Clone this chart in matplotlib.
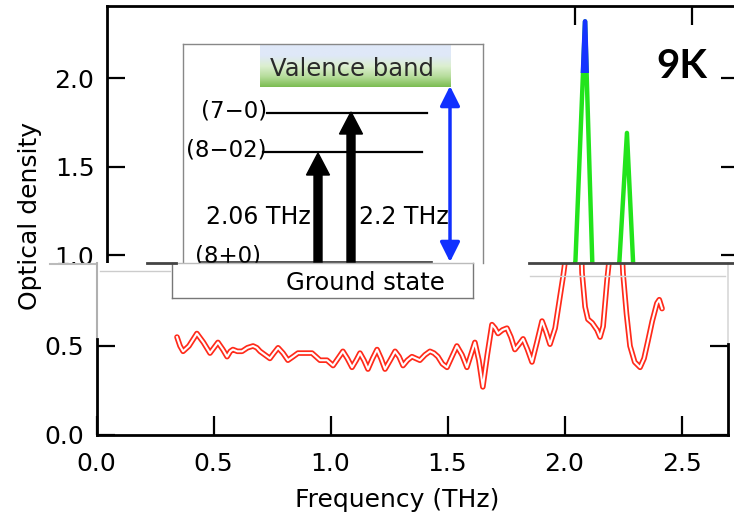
import matplotlib
matplotlib.use("Agg")
import matplotlib.pyplot as plt
import numpy as np
from matplotlib.patches import Rectangle, FancyArrow
from matplotlib.lines import Line2D
from matplotlib.colors import to_rgb

# ---------------- data ----------------
freq = [0.344, 0.357, 0.370, 0.395, 0.429, 0.457, 0.485, 0.502, 0.519, 0.540,
        0.558, 0.572, 0.583, 0.602, 0.622, 0.645, 0.669, 0.685, 0.699, 0.720,
        0.741, 0.758, 0.776, 0.797, 0.818, 0.840, 0.861, 0.890, 0.921, 0.938,
        0.955, 0.985, 1.011, 1.032, 1.053, 1.072, 1.092, 1.110, 1.126, 1.143,
        1.160, 1.180, 1.199, 1.216, 1.233, 1.255, 1.276, 1.293, 1.310, 1.329,
        1.348, 1.365, 1.382, 1.404, 1.425, 1.442, 1.459, 1.478, 1.498, 1.519,
        1.540, 1.562, 1.583, 1.600, 1.617, 1.634, 1.651, 1.670, 1.690, 1.703,
        1.716, 1.735, 1.754, 1.771, 1.788, 1.806, 1.823, 1.842, 1.861, 1.882,
        1.904, 1.921, 1.938, 1.960, 1.981, 1.994, 2.002, 2.043, 2.075, 2.088,
        2.100, 2.118, 2.139, 2.152, 2.165, 2.182, 2.190, 2.222, 2.250, 2.265,
        2.280, 2.300, 2.323, 2.340, 2.357, 2.375, 2.395, 2.405, 2.417]
od = [0.55, 0.50, 0.47, 0.50, 0.57, 0.52, 0.46, 0.49, 0.52, 0.48,
      0.44, 0.47, 0.48, 0.47, 0.47, 0.49, 0.50, 0.49, 0.47, 0.45,
      0.43, 0.46, 0.49, 0.46, 0.42, 0.44, 0.46, 0.46, 0.46, 0.44,
      0.42, 0.42, 0.39, 0.43, 0.47, 0.43, 0.38, 0.42, 0.46, 0.42,
      0.37, 0.43, 0.48, 0.43, 0.37, 0.42, 0.47, 0.44, 0.39, 0.42,
      0.44, 0.43, 0.42, 0.45, 0.47, 0.46, 0.44, 0.40, 0.38, 0.44,
      0.50, 0.45, 0.38, 0.45, 0.52, 0.42, 0.27, 0.45, 0.62, 0.60,
      0.57, 0.59, 0.60, 0.55, 0.48, 0.51, 0.54, 0.48, 0.41, 0.52,
      0.64, 0.58, 0.51, 0.60, 0.78, 0.89, 0.97, 2.32, 0.91, 0.72,
      0.65, 0.63, 0.59, 0.55, 0.61, 0.87, 0.97, 1.69, 0.91, 0.68,
      0.50, 0.41, 0.38, 0.43, 0.53, 0.64, 0.74, 0.76, 0.71]

x_ticks = [0.0, 0.5, 1.0, 1.5, 2.0, 2.5]
x_ticklabels = ["0.0", "0.5", "1.0", "1.5", "2.0", "2.5"]
y_ticks_low = [0.0, 0.5]
y_ticklabels_low = ["0.0", "0.5"]
y_ticks_up = [1.0, 1.5, 2.0]
y_ticklabels_up = ["1.0", "1.5", "2.0"]
top_ticks_up = [2.0, 2.5]

x_label = "Frequency (THz)"
y_label = "Optical density"
temp_label = "9K"
level_labels = ["(7\u22120)", "(8\u221202)", "(8+0)"]
band_label = "Valence band"
ground_label = "Ground state"
arrow_labels = ["2.06 THz", "2.2 THz"]

# ---------------- figure ----------------
W, H = 734, 525
fig = plt.figure(figsize=(W / 100, H / 100), dpi=100)
plt.rcParams['font.family'] = ['DejaVu Sans']


def rect(x0, y0, x1, y1):
    return [x0 / W, 1 - y1 / H, (x1 - x0) / W, (y1 - y0) / H]


XMAX = 2.70
PXU = 234.0
FS = 18

# upper (shifted) part of the plot
ax_up = fig.add_axes(rect(107, 6, 107 + XMAX * PXU, 263))
ax_up.set_xlim(0, XMAX)
ax_up.set_ylim(0.955, 2.407)
ax_up.plot(freq, od, color='#22e41c', lw=3.2, solid_joinstyle='round', zorder=3)
blue_line, = ax_up.plot(freq, od, color='#1533ff', lw=3.4, solid_joinstyle='round', zorder=4)
clip_rect = Rectangle((0, 2.03), XMAX, 1.0, transform=ax_up.transData, visible=False)
ax_up.add_patch(clip_rect)
blue_line.set_clip_path(clip_rect)
ax_up.spines['bottom'].set_visible(False)
for s in ['left', 'top', 'right']:
    ax_up.spines[s].set_linewidth(2)
ax_up.set_yticks(y_ticks_up)
ax_up.set_yticklabels(y_ticklabels_up)
ax_up.set_xticks(top_ticks_up)
ax_up.tick_params(axis='x', bottom=False, top=True, labelbottom=False, labeltop=False,
                  direction='in', length=14, width=1.6)
ax_up.tick_params(axis='y', left=True, right=True, labelleft=True, labelright=False,
                  direction='in', length=13, width=1.6, labelsize=FS, pad=9)

# lower part of the plot
ax_lo = fig.add_axes(rect(96.5, 263, 96.5 + XMAX * PXU, 435))
ax_lo.set_xlim(0, XMAX)
ax_lo.set_ylim(0, 0.966)
ax_lo.plot(freq, od, color='#ff2a1a', lw=4.0, solid_joinstyle='round',
           solid_capstyle='round', zorder=3)
ax_lo.plot(freq, od, color='white', lw=1.5, solid_joinstyle='round', zorder=4)
ax_lo.spines['top'].set_visible(False)
for s in ['left', 'right', 'bottom']:
    ax_lo.spines[s].set_linewidth(2)
ax_lo.spines['left'].set_bounds(0, 0.54)
ax_lo.spines['right'].set_bounds(0, 0.51)
ax_lo.plot([0, 0], [0.54, 0.966], color='#b0b0b0', lw=1.5, clip_on=False)
ax_lo.plot([XMAX, XMAX], [0.51, 0.966], color='#d8d8d8', lw=1.2, clip_on=False)
ax_lo.set_xticks(x_ticks)
ax_lo.set_xticklabels(x_ticklabels)
ax_lo.set_yticks(y_ticks_low)
ax_lo.set_yticklabels(y_ticklabels_low)
ax_lo.tick_params(axis='x', direction='in', length=14, width=1.6, labelsize=FS, pad=12)
ax_lo.tick_params(axis='y', left=True, right=True, labelright=False,
                  direction='in', length=13, width=1.6, labelsize=FS, pad=9)

# glitch band decorations
fig.add_artist(Line2D([147 / W, 176 / W], [1 - 263 / H] * 2, color='#444444', lw=2))
fig.add_artist(Line2D([529 / W, 734 / W], [1 - 263 / H] * 2, color='#444444', lw=2))
fig.add_artist(Line2D([100 / W, 170 / W], [1 - 271 / H] * 2, color='#cccccc', lw=1))
fig.add_artist(Line2D([530 / W, 725 / W], [1 - 276 / H] * 2, color='#d0d0d0', lw=1))
fig.add_artist(Rectangle((50 / W, 1 - 290 / H), 45 / W, 27 / H, transform=fig.transFigure,
                         facecolor='white', edgecolor='none', zorder=5))
fig.add_artist(Line2D([50 / W, 95 / W], [1 - 264 / H] * 2, color='#bbbbbb', lw=1.5, zorder=6))

# axis labels
fig.text(397 / W, 1 - 500 / H, x_label, ha='center', va='center', size=FS)
fig.text(30 / W, 1 - 216 / H, y_label, ha='center', va='center', size=FS, rotation=90)
fig.text(682 / W, 1 - 67 / H, temp_label, ha='center', va='center', size=29,
         weight='bold', family=['Lato', 'DejaVu Sans'])

# ---------------- inset (energy diagram) ----------------
ins = fig.add_axes(rect(183, 44, 483, 263))
ins.set_xlim(183, 483)
ins.set_ylim(263, 44)
ins.set_xticks([])
ins.set_yticks([])
ins.spines['bottom'].set_visible(False)
for s in ['left', 'top', 'right']:
    ins.spines[s].set_color('#888888')
    ins.spines[s].set_linewidth(1)

stops = ['#dfe8f8', '#dfe8f8', '#dcefd0', '#b7dd9c', '#7cbd52']
grad = np.array([to_rgb(c) for c in stops])
n = 60
t = np.linspace(0, 1, n)
pos = np.linspace(0, 1, len(stops))
img = np.stack([np.interp(t, pos, grad[:, k]) for k in range(3)], axis=1)
img = np.repeat(img[:, None, :], 2, axis=1)
ins.imshow(img, extent=[260, 451, 87, 45], aspect='auto', interpolation='bilinear', zorder=1)
ins.text(352, 69, band_label, ha='center', va='center', size=17.5, color='#2a2a2a', zorder=2)

ins.plot([267, 427], [113, 113], color='k', lw=1.6)
ins.plot([263, 422], [152, 152], color='k', lw=1.6)
ins.plot([200, 432], [262, 262], color='#333333', lw=1.2)
ins.text(267, 111, level_labels[0], ha='right', va='center', size=16.5)
ins.text(267, 150, level_labels[1], ha='right', va='center', size=16.5)
ins.text(195, 256, level_labels[2], ha='left', va='center', size=16.5, clip_on=True)

ins.add_patch(FancyArrow(318, 268, 0, -115, width=8, head_width=23, head_length=22,
                         length_includes_head=True, color='k', zorder=3))
ins.add_patch(FancyArrow(351, 268, 0, -156, width=8, head_width=23, head_length=22,
                         length_includes_head=True, color='k', zorder=3))
ins.annotate('', xy=(450, 86), xytext=(450, 262),
             arrowprops=dict(arrowstyle='<|-|>,head_length=0.6,head_width=0.3',
                             color='#1030ff', lw=2.5, mutation_scale=20,
                             shrinkA=0, shrinkB=0))
ins.text(258, 217, arrow_labels[0], ha='center', va='center', size=17)
ins.text(404, 217, arrow_labels[1], ha='center', va='center', size=17)

ins2 = fig.add_axes(rect(172, 263, 473, 298))
ins2.set_xlim(172, 473)
ins2.set_ylim(298, 263)
ins2.set_xticks([])
ins2.set_yticks([])
for s in ins2.spines.values():
    s.set_color('#777777')
    s.set_linewidth(1)
ins2.spines['top'].set_color('#bbbbbb')
ins2.text(365, 283, ground_label, ha='center', va='center', size=17.5)

fig.savefig('out.png', dpi=100)
